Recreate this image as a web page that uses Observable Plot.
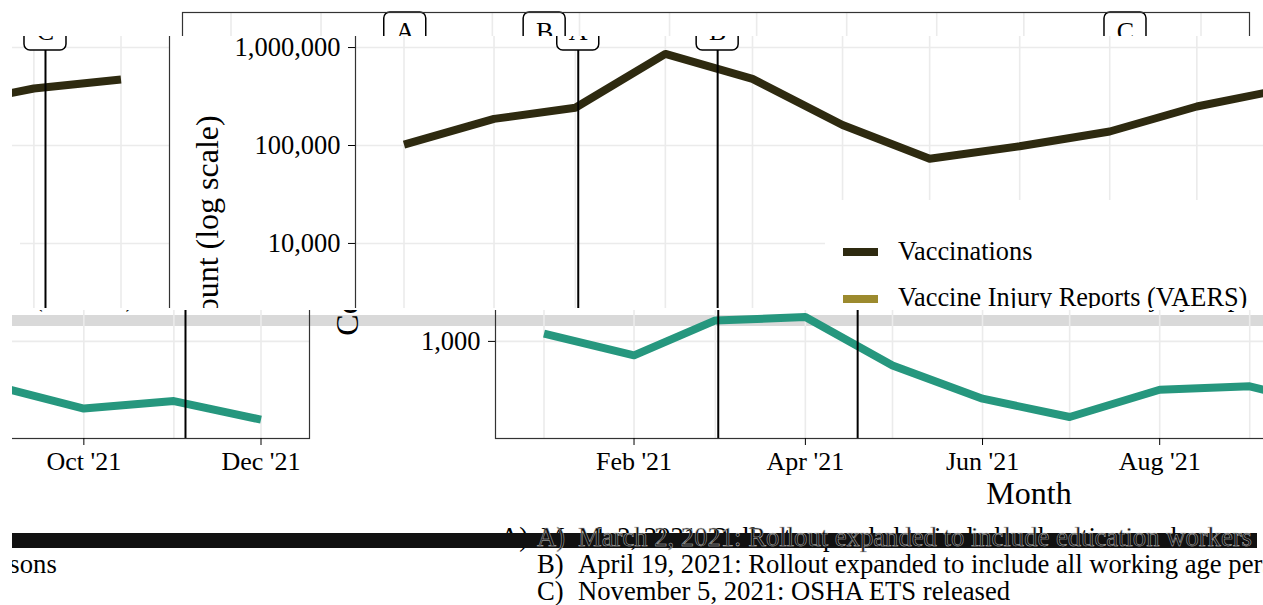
<!DOCTYPE html>
<html><head><meta charset="utf-8">
<script src="https://cdn.jsdelivr.net/npm/d3@7"></script>
<script src="https://cdn.jsdelivr.net/npm/@observablehq/plot@0.6"></script>
<style>
html,body{margin:0;padding:0;background:#fff;}
#page{position:relative;width:1263px;height:605px;overflow:hidden;background:#fff;font-family:"Liberation Serif","Times New Roman",serif;}
.band{position:absolute;left:0;width:1263px;overflow:hidden;}
.unit{position:absolute;width:1432px;height:605px;}
.unit svg{position:absolute;left:0;top:0;background:transparent;overflow:visible;}
.legend{position:absolute;left:825px;top:200px;width:448px;height:110px;background:#fff;}
.key{position:absolute;left:18px;width:35px;height:8px;}
.ltext{position:absolute;left:73px;font-size:26.3px;line-height:26px;white-space:nowrap;color:#000;}
.caption{position:absolute;left:397px;top:524px;font-size:26.65px;line-height:27px;white-space:nowrap;color:#000;}
.cline .lab{display:inline-block;width:41px;}
.ov{position:absolute;}
</style></head><body><div id="page"></div>
<script>
// ---- data ----
const months = ["2021-01-01","2021-02-01","2021-03-01","2021-04-01","2021-05-01","2021-06-01",
                "2021-07-01","2021-08-01","2021-09-01","2021-10-01","2021-11-01","2021-12-01"];
const vaccinations = [102000, 187000, 243000, 861000, 479000, 162000, 73100, 98400, 139000, 250000, 382000, 471000];
const vaersReports = [1199, 720, 1637, 1770, 569, 260, 169, 321, 348, 206, 246, 159];
const seriesNames = ["Vaccinations", "Vaccine Injury Reports (VAERS)"];
const eventDates = ["2021-03-02", "2021-04-19", "2021-11-05"];
const eventLabels = ["A", "B", "C"];
const eventTexts = ["March 2, 2021: Rollout expanded to include education workers",
                    "April 19, 2021: Rollout expanded to include all working age persons",
                    "November 5, 2021: OSHA ETS released"];
const xTickMonths = ["2021-02-01","2021-04-01","2021-06-01","2021-08-01","2021-10-01","2021-12-01"];
const yTicks = [1000, 10000, 100000, 1000000];
const labelY = 1460000;
const yTitle = "Count (log scale)";
const xTitle = "Month";

// ---- styling ----
const vacColor = "#2e2a10";
const vaersLegendColor = "#9c8a2e";
const vaersLineColor = "#26977e";

const parse = d3.utcParse("%Y-%m-%d");
const monthDates = months.map(parse);
const vacData = monthDates.map((d, i) => ({date: d, value: vaccinations[i]}));
const vaersData = monthDates.map((d, i) => ({date: d, value: vaersReports[i]}));
const events = eventDates.map((d, i) => ({date: parse(d), label: eventLabels[i]}));
const x0 = d3.min(monthDates), x1 = d3.max(monthDates);
const pad = (x1 - x0) * 0.05;
const xDomain = [new Date(+x0 - pad), new Date(+x1 + pad)];
const yDomain = [102, 2280000];

function makePlot() {
  return Plot.plot({
    width: 1432, height: 605,
    marginTop: 12, marginBottom: 167, marginLeft: 355, marginRight: 10,
    style: {fontFamily: "Liberation Serif", fontSize: "26px", background: "transparent", color: "#000", overflow: "visible"},
    x: {type: "utc", domain: xDomain},
    y: {type: "log", domain: yDomain},
    marks: [
      Plot.gridX(monthDates, {stroke: "#ebebeb", strokeOpacity: 1, strokeWidth: 1.6}),
      Plot.gridY(yTicks, {stroke: "#ebebeb", strokeOpacity: 1, strokeWidth: 1.6}),
      Plot.line(vaersData, {x: "date", y: "value", stroke: vaersLineColor, strokeWidth: 8, strokeLinecap: "butt"}),
      Plot.line(vacData, {x: "date", y: "value", stroke: vacColor, strokeWidth: 8, strokeLinecap: "butt"}),
      Plot.ruleX(events, {x: "date", stroke: "#000", strokeWidth: 2}),
      Plot.rect(events, {x1: "date", x2: "date", y1: () => labelY, y2: () => labelY,
        insetLeft: -21, insetRight: -21, insetTop: -19, insetBottom: -19, rx: 6,
        fill: "#fff", stroke: "#000", strokeWidth: 1.5}),
      Plot.text(events, {x: "date", y: () => labelY, text: "label", fontSize: 26}),
      Plot.frame({stroke: "#333", strokeWidth: 1.2}),
      Plot.axisX(xTickMonths.map(parse), {tickFormat: d3.utcFormat("%b '%y"), fontSize: 26, tickSize: 7, tickPadding: 6, label: null}),
      Plot.axisY(yTicks, {tickFormat: ",", fontSize: 26.5, tickSize: 7, tickPadding: 8, label: null}),
      Plot.text([yTitle], {text: d => d, frameAnchor: "left", textAnchor: "middle", lineAnchor: "middle", dx: -148, rotate: -90, fontSize: 32}),
      Plot.text([xTitle], {text: d => d, frameAnchor: "bottom", textAnchor: "middle", lineAnchor: "middle", dy: 55, fontSize: 32})
    ]
  });
}

function makeUnit() {
  const u = document.createElement("div");
  u.className = "unit";
  u.appendChild(makePlot());
  const lg = document.createElement("div");
  lg.className = "legend";
  const colors = [vacColor, vaersLegendColor];
  seriesNames.forEach((name, i) => {
    const k = document.createElement("div");
    k.className = "key"; k.style.top = (48 + i * 46.5) + "px"; k.style.background = colors[i];
    const t = document.createElement("div");
    t.className = "ltext"; t.style.top = (39 + i * 46) + "px"; t.textContent = name;
    lg.appendChild(k); lg.appendChild(t);
  });
  u.appendChild(lg);
  const cap = document.createElement("div");
  cap.className = "caption";
  eventTexts.forEach((txt, i) => {
    const line = document.createElement("div");
    line.className = "cline";
    if (i === 0) line.style.visibility = "hidden";
    line.innerHTML = `<span class="lab">${eventLabels[i]})</span>${txt}`;
    cap.appendChild(line);
  });
  u.appendChild(cap);
  return u;
}

// ---- glitched composition of the same chart ----
const page = document.getElementById("page");
const W = 1253;
const bands = [
  {top: 0, height: 36, dx: -173},
  {top: 36, height: 272, dx: 0},
  {top: 310, height: 295, dx: 140, stripe: [5, 11]}
];
for (const b of bands) {
  const bd = document.createElement("div");
  bd.className = "band";
  bd.style.top = b.top + "px"; bd.style.height = b.height + "px";
  if (b.stripe) {
    const s = document.createElement("div");
    s.style.cssText = `position:absolute;left:0;top:${b.stripe[0]}px;width:1263px;height:${b.stripe[1]}px;background:#d9d9d9;`;
    bd.appendChild(s);
  }
  for (const k of [-1, 0, 1]) {
    const u = makeUnit();
    u.style.left = (b.dx + k * W) + "px";
    u.style.top = (-b.top) + "px";
    bd.appendChild(u);
  }
  page.appendChild(bd);
}
function ov(css, html) {
  const d = document.createElement("div");
  d.className = "ov";
  d.style.cssText = css;
  if (html) d.innerHTML = html;
  page.appendChild(d);
  return d;
}
const lineA = `<span style="display:inline-block;width:41px">${eventLabels[0]})</span>${eventTexts[0]}`;
ov("left:500px;top:524px;font-size:26.65px;line-height:27px;white-space:nowrap;color:#000;", lineA);
ov("left:12px;top:533px;width:1245px;height:15px;background:#111;");
ov("left:537px;top:524px;font-size:26.65px;line-height:27px;white-space:nowrap;color:#111;-webkit-text-stroke:0.45px #c8c8c8;", lineA);
ov("left:0;top:36px;width:12px;height:569px;background:#fff;");
</script></body></html>
